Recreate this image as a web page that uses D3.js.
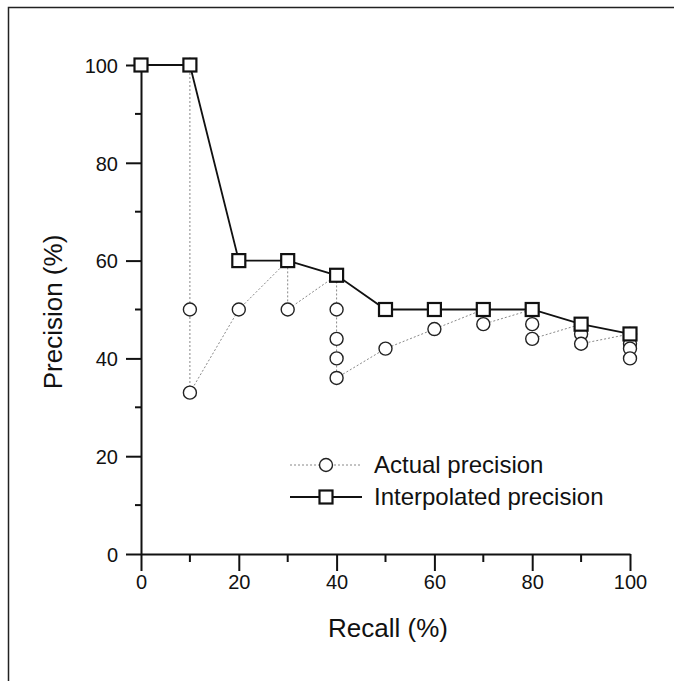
<!DOCTYPE html>
<html>
<head>
<meta charset="utf-8">
<script src="https://cdn.jsdelivr.net/npm/d3@7"></script>
<style>
  body { margin: 0; background: #fff; }
  text { font-family: "Liberation Sans", Arial, sans-serif; fill: #111; }
</style>
</head>
<body>
<div class="chart"></div>
<script>
// recall / precision values
const actualRecall    = [10, 10, 10, 20, 30, 30, 40, 40, 40, 40, 40, 50, 60, 70, 70, 80, 80, 80, 90, 90, 90, 100, 100, 100, 100];
const actualPrecision = [100, 50, 33, 50, 60, 50, 57, 50, 44, 40, 36, 42, 46, 50, 47, 50, 47, 44, 47, 45, 43, 45, 43, 42, 40];
const interpRecall    = [0, 10, 20, 30, 40, 50, 60, 70, 80, 90, 100];
const interpPrecision = [100, 100, 60, 60, 57, 50, 50, 50, 50, 47, 45];
const xTicks = [0, 20, 40, 60, 80, 100];
const yTicks = [0, 20, 40, 60, 80, 100];
const minorTicks = [10, 30, 50, 70, 90];
const legendLabels = ["Actual precision", "Interpolated precision"];

const width = 674, height = 681;

const svg = d3.select(".chart").append("svg")
    .attr("width", width).attr("height", height);

// page frame (top + left edge of the scanned box)
svg.append("path").attr("d", "M8.5,681V7.5H674")
   .attr("fill", "none").attr("stroke", "#222").attr("stroke-width", 1.5);

const x = d3.scaleLinear().domain([0, 100]).range([141, 630]);
const y = d3.scaleLinear().domain([0, 100]).range([554, 65]);

// axes
var gx = svg.append("g").attr("transform", "translate(0," + y(0) + ")")
    .call(d3.axisBottom(x).tickValues(xTicks).tickSize(17).tickSizeOuter(0).tickPadding(4));
var gy = svg.append("g").attr("transform", "translate(" + x(0) + ",0)")
    .call(d3.axisLeft(y).tickValues(yTicks).tickSize(15).tickSizeOuter(0).tickPadding(8));

[gx, gy].forEach(function(g){
  g.select(".domain").attr("stroke", "#111").attr("stroke-width", 2);
  g.selectAll(".tick line").attr("stroke", "#111").attr("stroke-width", 2);
  g.selectAll(".tick text").style("font-size", "20px").style("font-family", "Liberation Sans, Arial, sans-serif").attr("fill", "#111");
});
gy.selectAll(".tick text").attr("dy", "0.36em");

// minor ticks
gx.selectAll(".minor").data(minorTicks).enter().append("line")
  .attr("x1", d => x(d)).attr("x2", d => x(d)).attr("y1", 0).attr("y2", 8)
  .attr("stroke", "#111").attr("stroke-width", 2);
gy.selectAll(".minor").data(minorTicks).enter().append("line")
  .attr("y1", d => y(d)).attr("y2", d => y(d)).attr("x1", 0).attr("x2", -6)
  .attr("stroke", "#111").attr("stroke-width", 2);

// axis titles
svg.append("text").attr("x", 388).attr("y", 637).attr("text-anchor", "middle")
   .style("font-size", "26px").text("Recall (%)");
svg.append("text").attr("transform", "translate(62,312) rotate(-90)").attr("text-anchor", "middle")
   .style("font-size", "26px").text("Precision (%)");

const line = d3.line().x(d => x(d[0])).y(d => y(d[1]));
const actual = actualRecall.map((r, i) => [r, actualPrecision[i]]);
const interp = interpRecall.map((r, i) => [r, interpPrecision[i]]);

function dottedLine(g, pts){
  g.append("path").datum(pts).attr("d", line)
   .attr("fill", "none").attr("stroke", "#888").attr("stroke-width", 1)
   .attr("stroke-dasharray", "2,2");
}
function solidLine(g, pts){
  g.append("path").datum(pts).attr("d", line)
   .attr("fill", "none").attr("stroke", "#111").attr("stroke-width", 1.8);
}
function circles(g, pts){
  g.selectAll(null).data(pts).enter().append("circle")
   .attr("cx", d => x(d[0])).attr("cy", d => y(d[1])).attr("r", 6.5)
   .attr("fill", "#fff").attr("stroke", "#222").attr("stroke-width", 1.4);
}
function squares(g, pts){
  g.selectAll(null).data(pts).enter().append("rect")
   .attr("x", d => x(d[0]) - 6.5).attr("y", d => y(d[1]) - 6.5)
   .attr("width", 13).attr("height", 13)
   .attr("fill", "#fff").attr("stroke", "#111").attr("stroke-width", 2.2);
}

var plot = svg.append("g");
dottedLine(plot, actual);
solidLine(plot, interp);
circles(plot, actual);
squares(plot, interp);

// legend
var lg = svg.append("g");
var rows = [465, 497];
lg.append("path").attr("d", "M290," + rows[0] + "H362")
  .attr("stroke", "#888").attr("stroke-width", 1).attr("stroke-dasharray", "2,2");
lg.append("circle").attr("cx", 326).attr("cy", rows[0]).attr("r", 6.5)
  .attr("fill", "#fff").attr("stroke", "#222").attr("stroke-width", 1.4);
lg.append("path").attr("d", "M290," + rows[1] + "H362")
  .attr("stroke", "#111").attr("stroke-width", 1.8);
lg.append("rect").attr("x", 319.5).attr("y", rows[1] - 6.5).attr("width", 13).attr("height", 13)
  .attr("fill", "#fff").attr("stroke", "#111").attr("stroke-width", 2.2);
lg.selectAll("text.lab").data(legendLabels).enter().append("text")
  .attr("x", 374).attr("y", (d, i) => rows[i] + 8)
  .style("font-size", "24px").text(d => d);
</script>
</body>
</html>
